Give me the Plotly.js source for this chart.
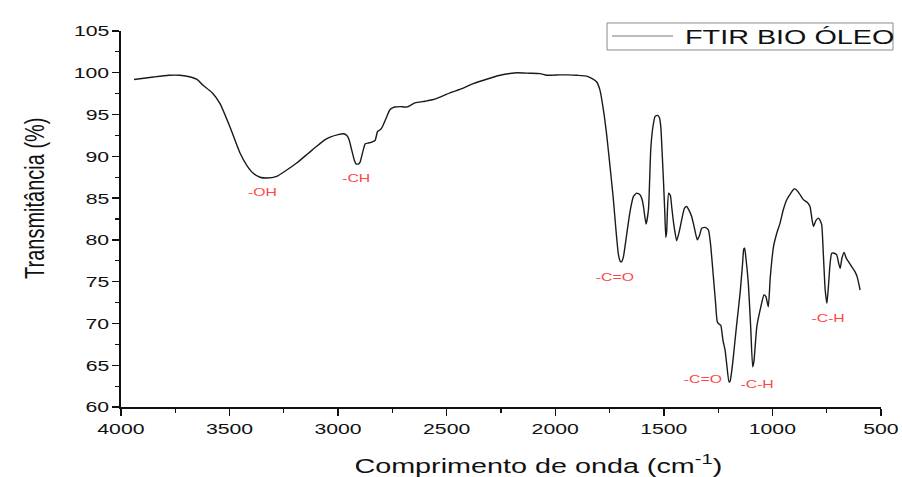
<!DOCTYPE html>
<html>
<head>
<meta charset="utf-8">
<script src="https://cdn.plot.ly/plotly-3.0.1.min.js"></script>
<style>html,body{margin:0;padding:0;background:#fff;}#chart{width:902px;height:477px;}</style>
</head>
<body>
<div id="chart"></div>
<script>
const wavenumber = [3940,3850,3780,3728,3680,3650,3622,3580,3544,3498,3452,3420,3392,3360,3329,3283,3240,3191,3140,3099,3060,3037,3000,2976,2960,2950,2938,2925,2918,2905,2899,2884,2875,2860,2845,2830,2818,2805,2795,2780,2761,2740,2715,2684,2646,2600,2561,2520,2485,2430,2377,2320,2254,2200,2177,2120,2070,2039,1980,1940,1901,1855,1830,1809,1794,1778,1763,1748,1733,1720,1709,1700,1694,1686,1679,1665,1655,1640,1625,1610,1600,1594,1582,1571,1565,1560,1550,1540,1528,1520,1514,1508,1502,1496,1491,1487,1484,1478,1470,1464,1455,1441,1430,1418,1405,1395,1385,1372,1360,1346,1335,1326,1310,1295,1285,1272,1262,1254,1245,1238,1228,1218,1210,1200,1195,1188,1180,1165,1149,1138,1132,1128,1122,1111,1100,1091,1085,1072,1055,1039,1030,1019,1010,995,980,965,950,934,915,900,890,875,857,840,827,818,811,800,788,780,773,765,757,749,742,735,727,715,704,695,688,680,670,660,650,635,620,610,596];
const transmittance = [99.2,99.5,99.7,99.7,99.5,99.2,98.5,97.6,96.3,93.5,90.4,88.9,88.0,87.5,87.4,87.6,88.3,89.2,90.3,91.2,92.0,92.3,92.6,92.7,92.5,92.0,90.8,89.5,89.1,89.1,89.3,90.8,91.5,91.6,91.7,91.9,93.0,93.2,93.6,94.5,95.6,95.9,95.95,95.9,96.4,96.6,96.8,97.2,97.6,98.1,98.7,99.2,99.7,99.95,100.0,99.95,99.9,99.7,99.75,99.75,99.7,99.6,99.3,98.9,97.9,95.5,92.5,88.8,85.0,81.0,78.2,77.4,77.4,78.0,79.2,81.8,83.5,85.2,85.6,85.4,84.8,84.0,81.9,83.6,87.5,91.0,93.6,94.8,94.9,94.6,93.5,90.5,87.2,83.5,80.3,81.0,83.2,85.6,85.3,84.0,82.0,79.9,80.9,82.4,83.8,84.0,83.6,82.8,81.5,80.0,80.6,81.4,81.5,81.2,79.5,75.6,72.5,70.2,69.9,69.8,68.0,66.8,65.0,63.0,63.1,64.2,66.0,69.8,73.6,77.0,78.9,79.0,77.8,74.8,69.5,64.8,65.5,69.6,71.8,73.4,73.2,72.0,75.5,79.2,80.8,82.0,83.6,84.8,85.6,86.1,86.0,85.5,84.8,84.5,84.0,82.5,81.6,82.3,82.6,82.3,81.8,78.0,74.0,72.4,74.5,77.0,78.4,78.4,78.2,77.2,76.6,77.8,78.5,77.8,77.4,76.8,76.2,75.6,74.0];

const seriesName = "FTIR BIO ÓLEO";
const xTitle = "Comprimento de onda (cm<sup>-1</sup>)";
const yTitle = "Transmitância (%)";
const labelText = ["-OH","-CH","-C=O","-C=O","-C-H","-C-H"];
const labelX = [3350,2918,1725,1318,1072,742];
const labelY = [85.7,87.4,75.6,63.4,62.7,70.6];

const FONT = 'Liberation Sans, Arial, sans-serif';
const STRETCH = 1.37;

const trace = {
  x: wavenumber, y: transmittance, type: 'scatter', mode: 'lines',
  name: seriesName, showlegend: false,
  line: {color: '#1a1a1a', width: 1.4, shape: 'spline', smoothing: 0.5}
};

const annotations = labelText.map((t, i) => ({
  x: labelX[i], y: labelY[i], xref: 'x', yref: 'y', text: t, showarrow: false,
  font: {family: FONT, size: 11.5, color: '#ff4747'}
}));
// legend text
annotations.push({x: 0.7395, y: 0.9867, xref: 'paper', yref: 'paper', xanchor: 'left', yanchor: 'middle',
  text: seriesName, showarrow: false, font: {family: FONT, size: 21, color: '#111'}});
// x title
annotations.push({x: 0.5487, y: -0.152, xref: 'paper', yref: 'paper', xanchor: 'center', yanchor: 'middle',
  text: xTitle, showarrow: false, font: {family: FONT, size: 21, color: '#111'}});
// y title
annotations.push({x: -0.1145, y: 0.556, xref: 'paper', yref: 'paper', xanchor: 'center', yanchor: 'middle',
  text: yTitle, textangle: -90, showarrow: false, font: {family: FONT, size: 20, color: '#111'}});

const shapes = [
  {type: 'rect', xref: 'paper', yref: 'paper', x0: 0.6395, x1: 1.0158, y0: 0.9495, y1: 1.0213,
   line: {color: '#8a8a8a', width: 1}, fillcolor: '#fff'},
  {type: 'line', xref: 'paper', yref: 'paper', x0: 0.6461, x1: 0.7263, y0: 0.9867, y1: 0.9867,
   line: {color: '#7a7a7a', width: 1.2}}
];

const tickFont = {family: FONT, size: 15.5, color: '#111'};

const layout = {
  width: 902, height: 477,
  margin: {l: 121, r: 21, t: 31, b: 70},
  paper_bgcolor: '#fff', plot_bgcolor: '#fff',
  showlegend: false,
  xaxis: {
    range: [4000, 500], autorange: false,
    tickmode: 'linear', tick0: 500, dtick: 500,
    ticks: 'outside', ticklen: 7, tickwidth: 1.4, tickcolor: '#111',
    minor: {ticks: 'outside', dtick: 250, ticklen: 4, tickwidth: 1.2, tickcolor: '#111'},
    showline: true, linecolor: '#111', linewidth: 1.6, mirror: false,
    showgrid: false, zeroline: false, tickfont: tickFont, automargin: false
  },
  yaxis: {
    range: [60, 105], autorange: false,
    tickmode: 'linear', tick0: 60, dtick: 5,
    ticks: 'outside', ticklen: 7, tickwidth: 1.4, tickcolor: '#111',
    minor: {ticks: 'outside', dtick: 2.5, ticklen: 4, tickwidth: 1.2, tickcolor: '#111'},
    showline: true, linecolor: '#111', linewidth: 1.6, mirror: false,
    showgrid: false, zeroline: false, tickfont: tickFont, automargin: false
  },
  shapes: shapes,
  annotations: annotations
};

function stretchEl(el, k, mode) {
  const bb = el.getBBox();
  const t = el.getAttribute('transform') || '';
  let c, extra;
  if (mode === 'vert') {
    c = bb.y + bb.height / 2;
    extra = ' translate(0,' + c + ') scale(1,' + k + ') translate(0,' + (-c) + ')';
  } else {
    if (mode === 'left') c = bb.x;
    else if (mode === 'right') c = bb.x + bb.width;
    else c = bb.x + bb.width / 2;
    extra = ' translate(' + c + ',0) scale(' + k + ',1) translate(' + (-c) + ',0)';
  }
  el.setAttribute('transform', (t + extra).trim());
}

Plotly.newPlot('chart', [trace], layout, {displayModeBar: false, staticPlot: true}).then(function (gd) {
  gd.querySelectorAll('.xtick text').forEach(el => stretchEl(el, STRETCH, 'center'));
  gd.querySelectorAll('.ytick text').forEach(el => stretchEl(el, STRETCH, 'right'));
  const n = labelText.length;
  gd.querySelectorAll('g.annotation').forEach(g => {
    const idx = +g.getAttribute('data-index');
    const el = g.querySelector('text');
    if (!el) return;
    if (idx < n) stretchEl(el, STRETCH, 'center');
    else if (idx === n) stretchEl(el, STRETCH, 'left');
    else if (idx === n + 1) stretchEl(el, STRETCH, 'center');
    else stretchEl(el, STRETCH, 'vert');
  });
});
</script>
</body>
</html>
